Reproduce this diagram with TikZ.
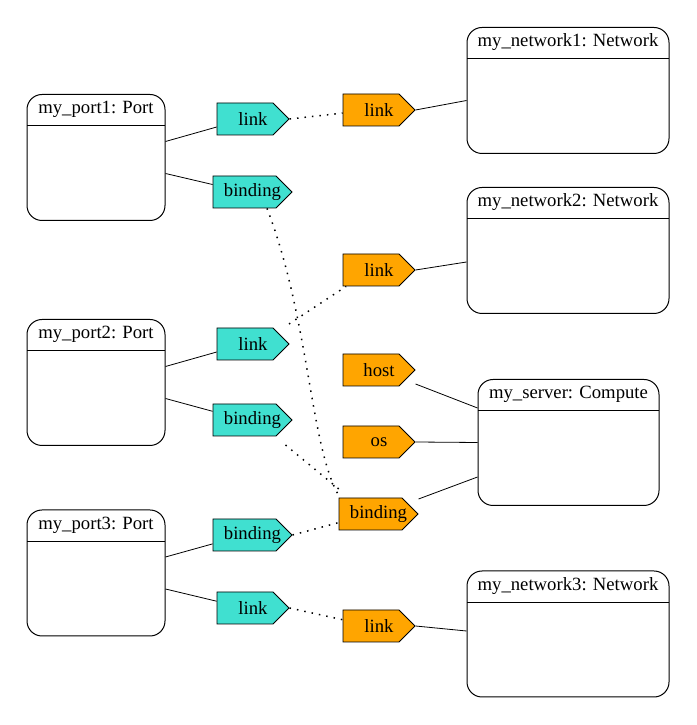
\documentclass[tikz,border=0pt]{standalone}
\usepackage{fontspec}
\setmainfont{Liberation Serif}
\usetikzlibrary{shapes.symbols}
\definecolor{turq}{HTML}{40E0D0}
\definecolor{amber}{HTML}{FFA500}
\tikzset{
  record/.style={draw, rounded corners=15pt, line width=1pt, minimum width=#1,
    minimum height=126pt, inner sep=0pt,
    path picture={\draw[line width=1pt]
      ([yshift=-31.5pt]path picture bounding box.north west) --
      ([yshift=-31.5pt]path picture bounding box.north east);}},
  title/.style={label={[anchor=base, yshift=-20pt]north:{#1}}},
  tag/.style={draw, signal, signal to=east, signal pointer angle=90,
    minimum height=32pt, minimum width=72pt, inner sep=0pt, line width=0.8pt,
    execute at begin node=\hspace*{8pt}, execute at end node=\hspace*{-8pt}},
  tagleft/.style={tag, fill=turq},
  tagright/.style={tag, fill=amber},
  wire/.style={line width=0.8pt},
  dotwire/.style={line width=1.5pt, dash pattern=on 1.5pt off 6pt}
}

\begin{document}
\begin{tikzpicture}[x=1pt, y=1pt, font=\fontsize{18.7}{22}\selectfont]
  \useasboundingbox (0,0) rectangle (696,725);

  % boxes
  \node[record=138pt, title={my\_port1: Port}] (port1) at (96,567.5) {};
  \node[record=138pt, title={my\_port2: Port}] (port2) at (96,342.5) {};
  \node[record=138pt, title={my\_port3: Port}] (port3) at (96,152) {};
  \node[record=202pt, title={my\_network1: Network}] (net1) at (568,634.5) {};
  \node[record=202pt, title={my\_network2: Network}] (net2) at (568,474.5) {};
  \node[record=181pt, title={my\_server: Compute}] (server) at (568.5,282.5) {};
  \node[record=202pt, title={my\_network3: Network}] (net3) at (568,91) {};

  % requirements
  \node[tagleft] (port1link) at (245,606) {link};
  \node[tagleft, minimum width=79pt] (port1bind) at (244.5,533) {binding};
  \node[tagleft] (port2link) at (245,381) {link};
  \node[tagleft, minimum width=79pt] (port2bind) at (244.5,305) {binding};
  \node[tagleft, minimum width=79pt] (port3bind) at (244.5,190) {binding};
  \node[tagleft] (port3link) at (245,117) {link};

  % capabilities
  \node[tagright] (net1link) at (371,615) {link};
  \node[tagright] (net2link) at (371,455) {link};
  \node[tagright] (srvhost) at (371,355) {host};
  \node[tagright] (srvos) at (371,283) {os};
  \node[tagright, minimum width=79pt] (srvbind) at (370.5,211) {binding};
  \node[tagright] (net3link) at (371,99) {link};

  % ports on the boxes
  \coordinate (p1a) at ([yshift=16pt]port1.east);
  \coordinate (p1b) at ([yshift=-16pt]port1.east);
  \coordinate (p2a) at ([yshift=16pt]port2.east);
  \coordinate (p2b) at ([yshift=-16pt]port2.east);
  \coordinate (p3a) at ([yshift=16pt]port3.east);
  \coordinate (p3b) at ([yshift=-16pt]port3.east);
  \coordinate (n1in) at ([yshift=-10pt]net1.west);
  \coordinate (n2in) at ([yshift=-11.5pt]net2.west);
  \coordinate (n3in) at ([yshift=3pt]net3.west);
  \coordinate (shost) at ([yshift=34.5pt]server.west);
  \coordinate (sos) at (server.west);
  \coordinate (sbind) at ([yshift=-34.5pt]server.west);

  % solid edges
  \draw[wire] (p1a) -- (port1link);
  \draw[wire] (p1b) -- (port1bind);
  \draw[wire] (p2a) -- (port2link);
  \draw[wire] (p2b) -- (port2bind);
  \draw[wire] (p3a) -- (port3bind);
  \draw[wire] (p3b) -- (port3link);
  \draw[wire] (net1link.east) -- (n1in);
  \draw[wire] (net2link.east) -- (n2in);
  \draw[wire] (net3link.east) -- (n3in);
  \draw[wire] ([yshift=-14pt]srvhost.east) -- (shost);
  \draw[wire] (srvos.east) -- (sos);
  \draw[wire] ([yshift=15pt]srvbind.east) -- (sbind);

  % dotted edges
  \draw[dotwire] (port1link.east) -- (net1link);
  \draw[dotwire] ([xshift=22.5pt]port1bind.south)
    .. controls (310,405) and (310,275) .. ([xshift=-30.5pt]srvbind.north);
  \draw[dotwire] ([xshift=44pt,yshift=20pt]port2link.center) -- (net2link);
  \draw[dotwire] ([xshift=41pt,yshift=-25pt]port2bind.center)
    -- ([xshift=-30.5pt,yshift=24pt]srvbind.center);
  \draw[dotwire] (port3bind.east) -- (srvbind);
  \draw[dotwire] (port3link.east) -- (net3link);
\end{tikzpicture}
\end{document}
